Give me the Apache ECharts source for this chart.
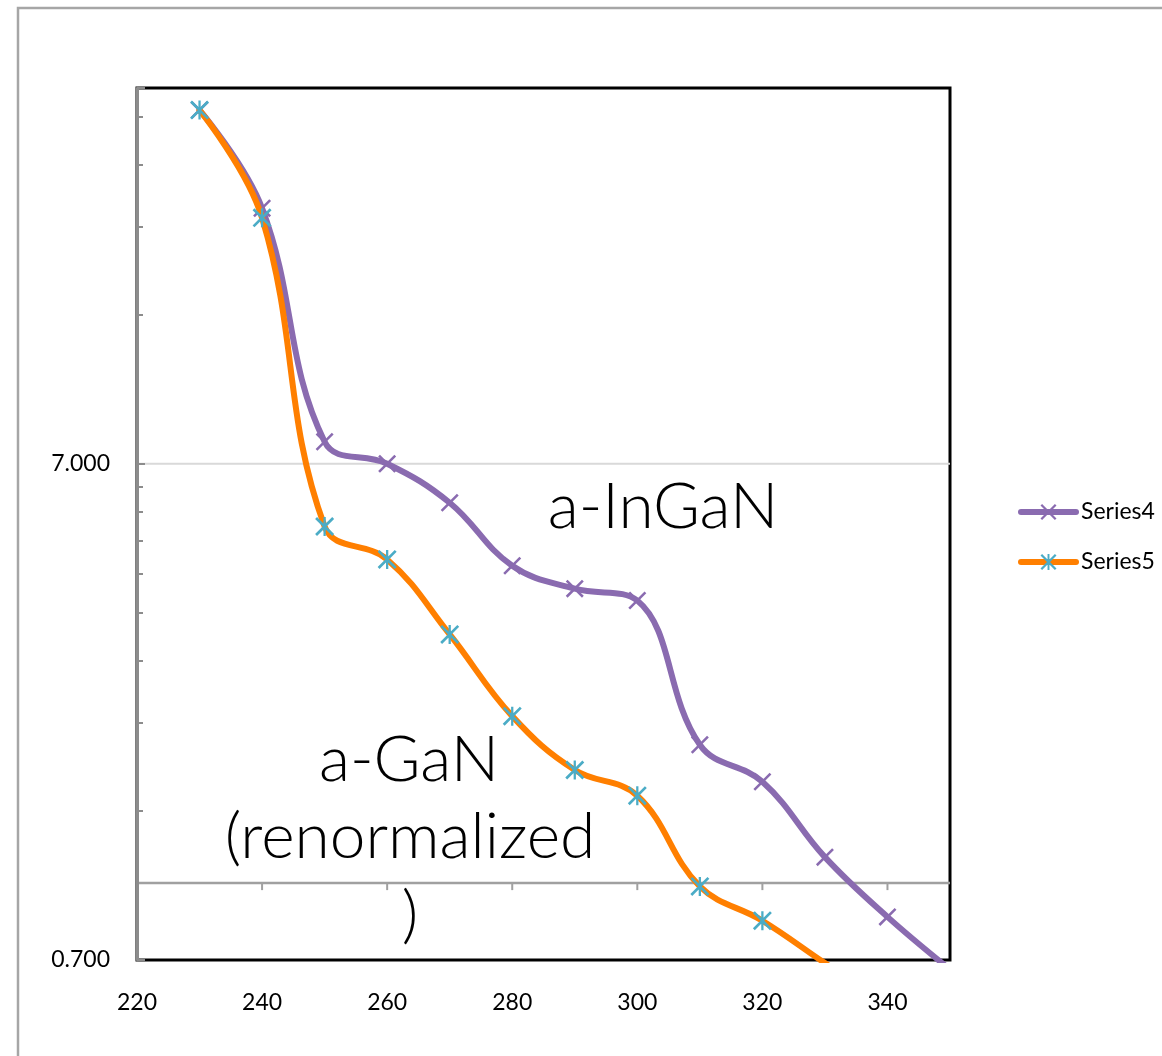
<!DOCTYPE html>
<html><head><meta charset="utf-8">
<script src="https://cdn.jsdelivr.net/npm/echarts@6/dist/echarts.min.js"></script>
<style>html,body{margin:0;padding:0;background:#fff}#c{width:1162px;height:1056px}</style>
</head><body><div id="c"></div>
<script>
const xValues = [230,240,250,260,270,280,290,300,310,320,330,340,350];
const series4 = [36.1,22.9,7.75,7.0,5.84,4.36,3.92,3.71,1.90,1.60,1.128,0.855,0.67];
const series5 = [36.1,21.9,5.23,4.49,3.17,2.17,1.69,1.50,0.985,0.84,0.69,0.57,null];
const seriesNames = ['Series4','Series5'];
const xMin = 220, xMax = 350, xInterval = 20;
const yMin = 0.7, yMax = 40;
const yMajorTicks = [0.7, 7, 40];
const yLabelValues = [0.7, 7];
const yGridValues = [7];
const yMinorTicks = [1.4,2.1,2.8,3.5,4.2,4.9,5.6,6.3,14,21,28,35];
const crossAxisValue = 1;
const crossAxisTicks = [240,260,280,300,320,340];
const annotations = [
  {text:'a-InGaN', x:663, y:507},
  {text:'a-GaN', x:409, y:760},
  {text:'(renormalized', x:410, y:837},
  {text:')', x:410, y:915}
];

const FONT = 'Lato, "Open Sans", sans-serif';
const xPath = 'path://M0,2L2,0L20,18L18,20Z M18,0L20,2L2,20L0,18Z';
const starPath = 'path://M0,2L2,0L20,18L18,20Z M18,0L20,2L2,20L0,18Z M8.8,0L11.2,0L11.2,20L8.8,20Z';

const chart = echarts.init(document.getElementById('c'), null, {renderer:'canvas'});
const pair = (arr) => xValues.map((x,i)=>[x, arr[i]]);
chart.setOption({
  backgroundColor:'#fff',
  animation:false,
  graphic:[
    {type:'rect', shape:{x:18,y:8,width:1400,height:1300}, style:{fill:'none', stroke:'#a6a6a6', lineWidth:2.5}, z:-10}
  ].concat(annotations.map(a=>({type:'text', x:a.x, y:a.y, z:50,
      style:{text:a.text, fill:'#000', font:'300 64px '+FONT, align:'center', verticalAlign:'middle'}}))),
  legend:{
    data:seriesNames, orient:'vertical', left:1018, top:500, padding:0,
    itemWidth:55, itemHeight:20, itemGap:26,
    lineStyle:{width:6, cap:'round'},
    textStyle:{fontSize:23, fontFamily:FONT, color:'#000', lineHeight:24}
  },
  grid:{left:137, right:212, top:88, bottom:96, show:true, borderColor:'#000', borderWidth:3, backgroundColor:'#fff'},
  xAxis:{type:'value', min:xMin, max:xMax, interval:xInterval,
    axisLine:{show:false}, axisTick:{show:false}, splitLine:{show:false},
    axisLabel:{fontSize:23, fontFamily:FONT, color:'#000', margin:31, showMaxLabel:false}
  },
  yAxis:[
    {type:'log', logBase:10, min:yMin, max:yMax,
      axisLine:{show:true, lineStyle:{color:'#8c8c8c', width:3}},
      axisTick:{show:true, inside:true, length:8, customValues:yMajorTicks, lineStyle:{color:'#8c8c8c', width:2}},
      axisLabel:{customValues:yLabelValues, fontSize:23, fontFamily:FONT, color:'#000', margin:27,
        formatter:(v)=>Number(v).toFixed(3)},
      splitLine:{show:false},
      z:5
    },
    {type:'log', logBase:10, min:yMin, max:yMax, position:'left', offset:0,
      axisLine:{show:false}, axisLabel:{show:false}, splitLine:{show:false},
      axisTick:{show:true, inside:true, length:6, customValues:yMinorTicks, lineStyle:{color:'#8c8c8c', width:2}},
      z:5
    }
  ],
  series:[
    {type:'custom', name:'gridLines', xAxisIndex:0, yAxisIndex:0, silent:true, z:1,
      data:yGridValues.map(v=>[xMin, v]),
      renderItem:(params, api)=>{
        const cs = params.coordSys;
        const p = api.coord([api.value(0), api.value(1)]);
        return {type:'line', shape:{x1:cs.x, y1:p[1], x2:cs.x+cs.width, y2:p[1]}, style:{stroke:'#d9d9d9', lineWidth:2}};
      }
    },
    {type:'custom', name:'crossAxis', xAxisIndex:0, yAxisIndex:0, silent:true, z:1,
      data:[[xMin, crossAxisValue]],
      renderItem:(params, api)=>{
        const cs = params.coordSys;
        const p = api.coord([api.value(0), api.value(1)]);
        return {type:'line', shape:{x1:cs.x, y1:p[1], x2:cs.x+cs.width, y2:p[1]}, style:{stroke:'#a0a0a0', lineWidth:2.5}};
      }
    },
    {type:'custom', name:'crossTicks', xAxisIndex:0, yAxisIndex:0, silent:true, z:1,
      data:crossAxisTicks.map(x=>[x, crossAxisValue]),
      renderItem:(params, api)=>{
        const p = api.coord([api.value(0), api.value(1)]);
        return {type:'line', shape:{x1:p[0], y1:p[1], x2:p[0], y2:p[1]+7}, style:{stroke:'#a0a0a0', lineWidth:2}};
      }
    },
    {name:seriesNames[0], type:'line', data:pair(series4), smooth:0.4, symbol:xPath, symbolSize:18,
      lineStyle:{color:'#8a6bb0', width:6, cap:'round', join:'round'}, itemStyle:{color:'#8a6bb0'}, clip:true, z:3},
    {name:seriesNames[1], type:'line', data:pair(series5), smooth:0.4, symbol:starPath, symbolSize:19,
      lineStyle:{color:'#ff7f00', width:6, cap:'round', join:'round'}, itemStyle:{color:'#4bacc6'}, clip:true, z:4}
  ]
});
</script></body></html>
